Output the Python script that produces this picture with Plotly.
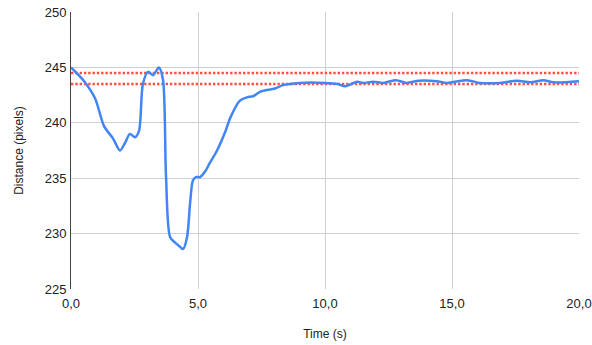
import plotly.graph_objects as go

time_s = [0.0, 0.5, 0.95, 1.3, 1.65, 1.93, 2.13, 2.32, 2.52, 2.68, 2.83, 3.03, 3.23, 3.46, 3.62,
          3.74, 3.9, 4.09, 4.3, 4.41, 4.57, 4.69, 4.8, 4.92, 5.08, 5.28, 5.47, 5.75, 6.1, 6.26,
          6.65, 6.93, 7.17, 7.44, 8.03, 8.35, 9.0, 10.0, 10.5, 10.8, 11.26, 11.5, 11.9, 12.3,
          12.8, 13.2, 13.7, 14.4, 14.8, 15.6, 16.1, 16.9, 17.55, 18.1, 18.6, 19.0, 20.0]
distance_px = [245.0, 243.8, 242.2, 239.7, 238.6, 237.5, 238.2, 239.0, 238.7, 239.3, 243.5, 244.6,
               244.3, 245.0, 243.9, 235.2, 229.7, 229.2, 228.8, 228.6, 229.7, 232.8, 234.8, 235.1,
               235.1, 235.6, 236.4, 237.5, 239.35, 240.4, 242.0, 242.3, 242.4, 242.8, 243.1, 243.4,
               243.6, 243.6, 243.5, 243.3, 243.7, 243.6, 243.7, 243.6, 243.85, 243.6, 243.8, 243.75,
               243.6, 243.85, 243.6, 243.6, 243.8, 243.65, 243.85, 243.65, 243.75]

upper_bound = [244.5, 244.5]
lower_bound = [243.5, 243.5]
bound_x = [0.0, 20.0]

x_ticks = [0, 5, 10, 15, 20]
x_tick_labels = ["0,0", "5,0", "10,0", "15,0", "20,0"]
y_ticks = [225, 230, 235, 240, 245, 250]

fig = go.Figure()
fig.add_trace(go.Scatter(x=bound_x, y=upper_bound, mode="lines",
                         line=dict(color="#ff4f45", width=2.6, dash="2.4px,1.9px"), hoverinfo="skip"))
fig.add_trace(go.Scatter(x=bound_x, y=lower_bound, mode="lines",
                         line=dict(color="#ff4f45", width=2.6, dash="2.4px,1.9px"), hoverinfo="skip"))
fig.add_trace(go.Scatter(x=time_s, y=distance_px, mode="lines",
                         line=dict(color="#4285f4", width=2.5, shape="spline", smoothing=0.8)))

fig.update_layout(
    width=592, height=345,
    margin=dict(l=71, r=13, t=12, b=56, autoexpand=False),
    paper_bgcolor="white", plot_bgcolor="white",
    showlegend=False,
    font=dict(family="Liberation Sans, Arial, sans-serif", size=13, color="#222222"),
)
fig.update_xaxes(range=[0, 20], tickvals=x_ticks, ticktext=x_tick_labels, automargin=False,
                 showgrid=True, gridcolor="#d0d0d0", gridwidth=1, ticklabelstandoff=5,
                 ticklabeloverflow="allow",
                 zeroline=False, showline=False, ticks="",
                 title=dict(text="Time (s)", font=dict(size=12, color="#222222"), standoff=19))
fig.update_yaxes(range=[225, 250], tickvals=y_ticks, automargin=False,
                 showgrid=True, gridcolor="#d0d0d0", gridwidth=1, ticklabelstandoff=1,
                 ticklabeloverflow="allow",
                 zeroline=False, showline=True, linecolor="#444444", linewidth=1, ticks="",
                 title=dict(text="Distance (pixels)", font=dict(size=12, color="#222222"), standoff=18))

fig.write_html("out.html", config={"displayModeBar": False},
               post_script="document.body.style.margin='0';document.body.style.overflow='hidden';")
